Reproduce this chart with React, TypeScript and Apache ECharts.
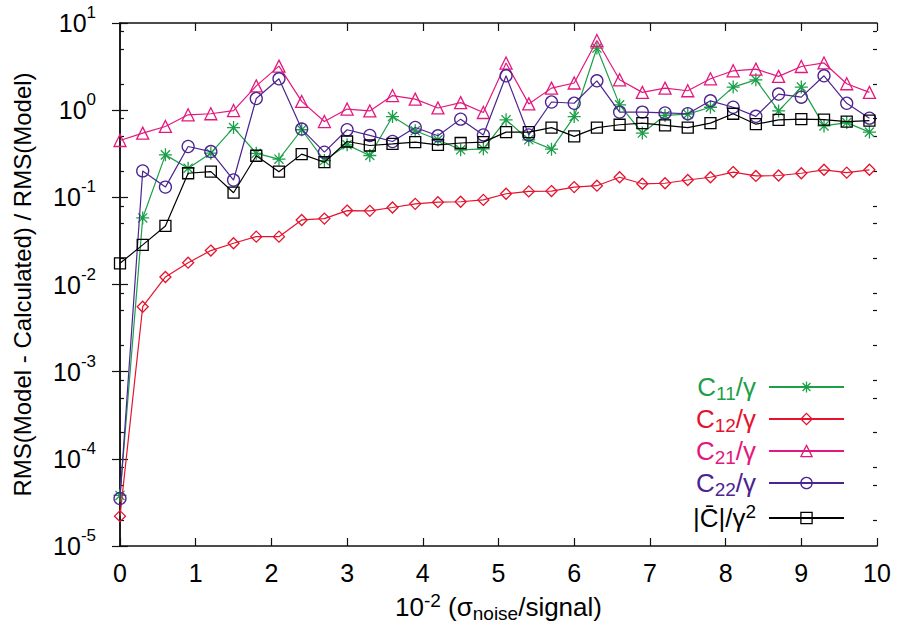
import React, { useEffect, useRef } from "react";
import * as echarts from "echarts";

// x positions (10^-2 sigma_noise/signal)
const xs = [0, 0.3, 0.6, 0.9, 1.2, 1.5, 1.8, 2.1, 2.4, 2.7, 3.0, 3.3, 3.6, 3.9, 4.2, 4.5, 4.8,
  5.1, 5.4, 5.7, 6.0, 6.3, 6.6, 6.9, 7.2, 7.5, 7.8, 8.1, 8.4, 8.7, 9.0, 9.3, 9.6, 9.9];

const c11 = [3.8e-5, 0.058, 0.307, 0.216, 0.321, 0.632, 0.32, 0.274, 0.596, 0.264, 0.40, 0.302, 0.845,
  0.58, 0.457, 0.351, 0.36, 0.774, 0.457, 0.357, 0.845, 5.16, 1.15, 0.546, 0.87, 0.90, 1.08, 1.84, 2.23,
  0.98, 1.84, 0.66, 0.72, 0.56];
const c12 = [2.2e-5, 0.00556, 0.0122, 0.0178, 0.0245, 0.0297, 0.0354, 0.0354, 0.055, 0.057, 0.0705, 0.070,
  0.0764, 0.0842, 0.088, 0.089, 0.0935, 0.11, 0.117, 0.118, 0.131, 0.136, 0.17, 0.143, 0.145, 0.158, 0.17,
  0.195, 0.176, 0.178, 0.189, 0.207, 0.192, 0.207];
const c21 = [0.449, 0.545, 0.65, 0.885, 0.91, 0.99, 1.9, 3.2, 1.26, 0.74, 1.03, 0.98, 1.47, 1.34, 1.06,
  1.22, 0.94, 3.47, 1.18, 1.79, 2.05, 6.3, 2.23, 1.6, 1.79, 1.67, 2.29, 2.83, 2.96, 2.44, 3.17, 3.48, 2.01, 1.6];
const c22 = [3.5e-5, 0.201, 0.131, 0.383, 0.335, 0.158, 1.36, 2.29, 0.607, 0.33, 0.596, 0.513, 0.437, 0.633,
  0.508, 0.789, 0.52, 2.48, 0.52, 1.24, 1.2, 2.17, 0.95, 0.95, 0.93, 0.91, 1.28, 1.08, 0.85, 1.53, 1.41, 2.48,
  1.2, 0.81];
const cbar = [0.0175, 0.0285, 0.047, 0.189, 0.197, 0.113, 0.30, 0.197, 0.313, 0.253, 0.437, 0.393, 0.41, 0.43,
  0.40, 0.42, 0.43, 0.56, 0.56, 0.63, 0.50, 0.63, 0.68, 0.71, 0.67, 0.63, 0.71, 0.91, 0.69, 0.774, 0.79, 0.78,
  0.74, 0.76];

const seriesNames = ["C11", "C12", "C21", "C22", "Cbar"];
const legendLabels: Record<string, string> = {
  C11: "{m|C}{sub|11}{m|/γ}{pad|}",
  C12: "{m|C}{sub|12}{m|/γ}{pad|}",
  C21: "{m|C}{sub|21}{m|/γ}{pad|}",
  C22: "{m|C}{sub|22}{m|/γ}{pad|}",
  Cbar: "{m||C\u0304|/γ}{sup|2}{pad|}",
};
const xTicks = [0, 1, 2, 3, 4, 5, 6, 7, 8, 9, 10];
const yDecades = [-5, -4, -3, -2, -1, 0];
const yMinorMultipliers = [2, 5, 8];

const FONT = "Liberation Sans, Arial, Helvetica, sans-serif";
const colors = ["#1c9f48", "#e5132e", "#e4187c", "#4b2491", "#000000"];
const symbols = [
  "path://M5,0L5,10M0,5L10,5M1.5,1.5L8.5,8.5M1.5,8.5L8.5,1.5",
  "diamond",
  "triangle",
  "circle",
  "rect",
];
const symbolSizes = [13, 11, 12, 12, 11];

export default function App() {
  const ref = useRef<HTMLDivElement>(null);
  useEffect(() => {
    if (!ref.current) return;
    const chart = echarts.init(ref.current, undefined, { renderer: "svg" });
    const allSeries = [c11, c12, c21, c22, cbar];
    const minorValues: number[] = [];
    yDecades.forEach((d) => yMinorMultipliers.forEach((m) => minorValues.push(m * Math.pow(10, d))));

    const axisLine = { show: true, lineStyle: { color: "#111", width: 1.5 } };
    const majorTick = { show: true, inside: true, length: 8, lineStyle: { color: "#111", width: 1.2 } };
    const yBase = {
      type: "log" as const,
      logBase: 10,
      min: 1e-5,
      max: 10,
      splitNumber: 6,
      splitLine: { show: false },
    };
    const option: any = {
      animation: false,
      backgroundColor: "#fff",
      grid: { left: 120, right: 20, top: 23, bottom: 83, containLabel: false },
      xAxis: [
        {
          type: "value",
          min: 0,
          max: 10,
          interval: 1,
          position: "bottom",
          axisLine,
          axisTick: majorTick,
          splitLine: { show: false },
          axisLabel: {
            show: true,
            margin: 14,
            color: "#000",
            fontSize: 25,
            fontFamily: FONT,
            customValues: xTicks,
          },
          name: "{m|10}{sup|-2}{m| (σ}{sub|noise}{m|/signal)}",
          nameLocation: "middle",
          nameGap: 45,
          nameTextStyle: {
            color: "#000",
            fontFamily: FONT,
            rich: {
              m: { fontSize: 26, lineHeight: 32, fontFamily: FONT, color: "#000" },
              sup: { fontSize: 19, lineHeight: 12, verticalAlign: "top", fontFamily: FONT, color: "#000" },
              sub: { fontSize: 19, lineHeight: 11, verticalAlign: "bottom", fontFamily: FONT, color: "#000" },
            },
          },
        },
        {
          type: "value",
          min: 0,
          max: 10,
          interval: 1,
          position: "top",
          axisLine,
          axisTick: majorTick,
          splitLine: { show: false },
          axisLabel: { show: false },
        },
      ],
      yAxis: [
        {
          ...yBase,
          position: "left",
          axisLine,
          axisTick: majorTick,
          axisLabel: {
            show: true,
            margin: 24,
            color: "#000",
            formatter: (v: number) => `{b|10}{s|${Math.round(Math.log10(v))}}`,
            rich: {
              b: { fontSize: 25, lineHeight: 38, fontFamily: FONT, color: "#000" },
              s: { fontSize: 17, lineHeight: 16, verticalAlign: "top", fontFamily: FONT, color: "#000" },
            },
          },
          name: "RMS(Model - Calculated) / RMS(Model)",
          nameLocation: "middle",
          nameGap: 86,
          nameTextStyle: { fontSize: 24, fontFamily: FONT, color: "#000" },
        },
        {
          ...yBase,
          position: "right",
          axisLine,
          axisTick: majorTick,
          axisLabel: { show: false },
        },
        {
          ...yBase,
          position: "left",
          axisLine: { show: false },
          axisTick: { show: true, inside: true, length: 4, customValues: minorValues, lineStyle: { color: "#111", width: 1.2 } },
          axisLabel: { show: false },
        },
        {
          ...yBase,
          position: "right",
          axisLine: { show: false },
          axisTick: { show: true, inside: true, length: 4, customValues: minorValues, lineStyle: { color: "#111", width: 1.2 } },
          axisLabel: { show: false },
        },
      ],
      legend: {
        orient: "vertical",
        right: 47,
        top: 369,
        align: "right",
        itemWidth: 75,
        itemHeight: 14,
        itemGap: 3,
        itemStyle: { borderWidth: 1.3 },
        data: seriesNames.map((n, i) => ({ name: n, textStyle: { color: colors[i] } })),
        formatter: (name: string) => legendLabels[name],
        textStyle: {
          fontFamily: FONT,
          fontSize: 26,
          rich: {
            m: { fontSize: 26, lineHeight: 32, fontFamily: FONT },
            sub: { fontSize: 19, lineHeight: 10, verticalAlign: "bottom", fontFamily: FONT },
            sup: { fontSize: 19, lineHeight: 12, verticalAlign: "top", fontFamily: FONT },
            pad: { width: 8 },
          },
        },
      },
      series: seriesNames.map((n, i) => ({
        name: n,
        type: "line",
        xAxisIndex: 0,
        yAxisIndex: 0,
        data: xs.map((x, j) => [x, allSeries[i][j]]),
        symbol: symbols[i],
        symbolSize: symbolSizes[i],
        showSymbol: true,
        lineStyle: { color: colors[i], width: 1.2 },
        itemStyle: { color: "rgba(255,255,255,0)", borderColor: colors[i], borderWidth: 1.3 },
        emphasis: { disabled: true },
        z: 2 + i,
      })),
    };
    chart.setOption(option);
    return () => chart.dispose();
  }, []);
  return (
    <div
      ref={ref}
      style={{ position: "fixed", left: 0, top: 0, width: 897, height: 629, background: "#fff" }}
    />
  );
}
